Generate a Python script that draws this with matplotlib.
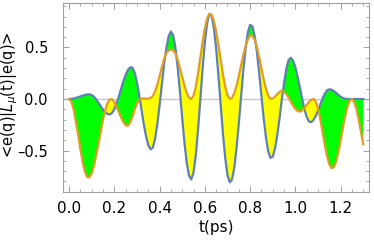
import numpy as np
import matplotlib
matplotlib.use("Agg")
import matplotlib.pyplot as plt
from matplotlib.ticker import MultipleLocator

# time grid (ps), values at 0.01 ps steps
t = np.round(np.arange(0, 131) * 0.01, 2)

blue = [
    0.0, 0.001, 0.005, 0.011, 0.018, 0.026, 0.033, 0.040, 0.044, 0.045,
    0.039, 0.022, -0.005, -0.037, -0.071, -0.103, -0.129, -0.145, -0.150, -0.135,
    -0.098, -0.041, 0.027, 0.102, 0.174, 0.235, 0.282, 0.307, 0.304, 0.255,
    0.160, 0.036, -0.104, -0.243, -0.360, -0.448, -0.488, -0.472, -0.388, -0.244,
    -0.061, 0.143, 0.341, 0.497, 0.611, 0.655, 0.619, 0.497, 0.303, 0.067,
    -0.190, -0.426, -0.621, -0.744, -0.780, -0.714, -0.545, -0.297, -0.006, 0.291,
    0.550, 0.737, 0.825, 0.805, 0.687, 0.486, 0.225, -0.062, -0.339, -0.569,
    -0.738, -0.808, -0.781, -0.667, -0.477, -0.239, 0.022, 0.278, 0.489, 0.648,
    0.720, 0.706, 0.614, 0.457, 0.254, 0.030, -0.189, -0.371, -0.510, -0.571,
    -0.559, -0.482, -0.352, -0.187, -0.007, 0.156, 0.293, 0.379, 0.400, 0.372,
    0.309, 0.217, 0.110, -0.001, -0.100, -0.174, -0.218, -0.224, -0.204, -0.165,
    -0.112, -0.053, 0.004, 0.051, 0.084, 0.095, 0.090, 0.078, 0.060, 0.040,
    0.022, 0.010, 0.003, 0.0, 0.0, 0.0, 0.0, 0.0, 0.0, 0.0,
    0.0,
]

orange = [
    0.0, -0.026, -0.100, -0.222, -0.346, -0.487, -0.612, -0.708, -0.758, -0.760,
    -0.722, -0.650, -0.543, -0.436, -0.316, -0.201, -0.107, -0.037, -0.003, -0.004,
    -0.029, -0.076, -0.127, -0.181, -0.226, -0.254, -0.259, -0.229, -0.172, -0.102,
    -0.042, -0.005, 0.003, 0.005, 0.003, 0.004, 0.010, 0.030, 0.075, 0.140,
    0.220, 0.310, 0.390, 0.445, 0.472, 0.480, 0.476, 0.443, 0.382, 0.302,
    0.213, 0.127, 0.059, 0.013, 0.0, 0.034, 0.121, 0.249, 0.399, 0.552,
    0.686, 0.782, 0.828, 0.818, 0.758, 0.656, 0.524, 0.378, 0.238, 0.122,
    0.037, 0.001, 0.011, 0.056, 0.129, 0.222, 0.326, 0.428, 0.515, 0.581,
    0.616, 0.615, 0.577, 0.504, 0.408, 0.299, 0.192, 0.100, 0.033, 0.002,
    0.004, 0.023, 0.048, 0.070, 0.078, 0.070, 0.047, 0.013, -0.026, -0.065,
    -0.096, -0.117, -0.122, -0.111, -0.086, -0.058, -0.029, -0.008, 0.0, -0.024,
    -0.092, -0.194, -0.318, -0.443, -0.552, -0.633, -0.671, -0.662, -0.609, -0.519,
    -0.405, -0.281, -0.168, -0.074, -0.015, 0.0, -0.030, -0.100, -0.200, -0.320,
    -0.440,
]

blue_color = "#5E81B5"
orange_color = "#E19C24"

b = np.array(blue)
o = np.array(orange)

fig = plt.figure(figsize=(3.74, 2.42), dpi=100)
ax = fig.add_axes([0.169, 0.205, 0.818, 0.784])

ax.axhline(0, color="#c8c8c8", lw=1.0, zorder=1)
ax.fill_between(t, b, o, where=b >= o, interpolate=True, color="#00ff00", lw=0, zorder=2)
ax.fill_between(t, b, o, where=b < o, interpolate=True, color="#ffff00", lw=0, zorder=2)
ax.plot(t, b, color=blue_color, lw=1.6, zorder=3)
ax.plot(t, o, color=orange_color, lw=1.6, zorder=4)

ax.set_xlim(-0.026, 1.326)
ax.set_ylim(-0.906, 0.935)
ax.xaxis.set_major_locator(MultipleLocator(0.2))
ax.xaxis.set_minor_locator(MultipleLocator(0.05))
ax.yaxis.set_major_locator(MultipleLocator(0.5))
ax.yaxis.set_minor_locator(MultipleLocator(0.1))
ax.xaxis.set_major_formatter(plt.FuncFormatter(lambda v, p: f"{v:.1f}"))
ax.yaxis.set_major_formatter(plt.FuncFormatter(lambda v, p: f"{v:.1f}".replace("-", "\u2013")))

for side in ax.spines.values():
    side.set_color("#a0a0a0")
    side.set_linewidth(0.8)
ax.tick_params(which="both", direction="in", color="#a0a0a0", top=True, right=True,
               labelcolor="black")
ax.tick_params(which="major", length=4, width=0.7)
ax.tick_params(which="minor", length=2, width=0.6)
ax.tick_params(axis="x", which="major", pad=6, labelsize=11)
ax.tick_params(axis="y", which="major", pad=11, labelsize=10.5)

ax.set_xlabel("t(ps)", fontsize=11, labelpad=3)
fig.text(10 / 374, 1 - 95 / 242, r"<e(q)|$L_\mu$(t)|e(q)>", fontsize=10.5,
         rotation=90, ha="center", va="center")

fig.savefig("out.png", dpi=100)
